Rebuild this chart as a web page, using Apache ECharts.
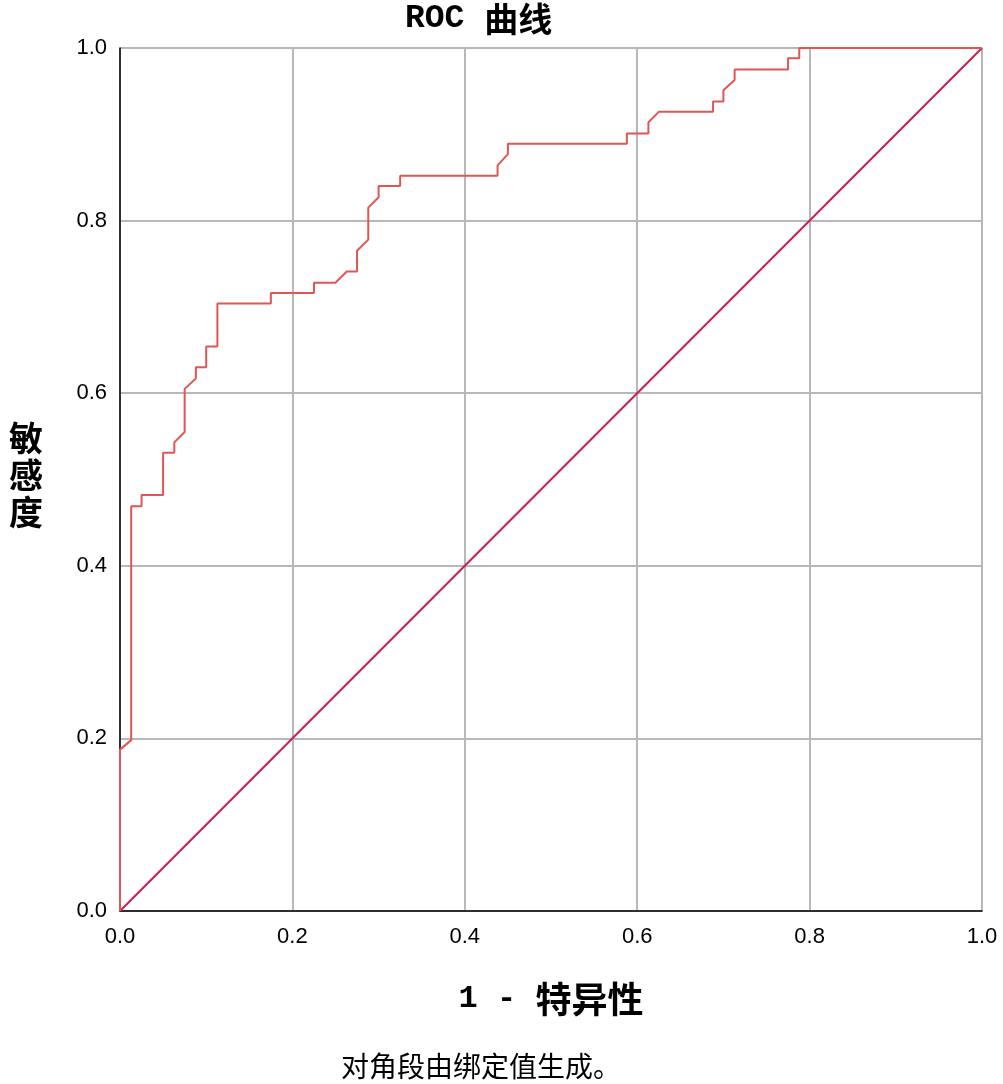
<!DOCTYPE html>
<html>
<head>
<meta charset="utf-8">
<script src="https://cdn.jsdelivr.net/npm/echarts@6/dist/echarts.min.js"></script>
<style>
html,body{margin:0;padding:0;background:#fff;}
#chart{width:1003px;height:1084px;}
</style>
</head>
<body>
<div id="chart"></div>
<script>
// ROC curve points (1 - specificity, sensitivity)
const fpr = [0, 0, 0.013, 0.013, 0.025, 0.025, 0.050, 0.050, 0.063, 0.063, 0.075, 0.075, 0.088, 0.088, 0.100, 0.100, 0.113, 0.113, 0.175, 0.175, 0.225, 0.225, 0.250, 0.263, 0.275, 0.275, 0.288, 0.288, 0.300, 0.300, 0.325, 0.325, 0.438, 0.438, 0.450, 0.450, 0.588, 0.588, 0.613, 0.613, 0.625, 0.688, 0.688, 0.700, 0.700, 0.713, 0.713, 0.775, 0.775, 0.788, 0.788, 1.0];
const tpr = [0, 0.187, 0.198, 0.469, 0.469, 0.482, 0.482, 0.531, 0.531, 0.543, 0.555, 0.605, 0.617, 0.630, 0.630, 0.654, 0.654, 0.704, 0.704, 0.716, 0.716, 0.728, 0.728, 0.741, 0.741, 0.765, 0.778, 0.815, 0.827, 0.840, 0.840, 0.852, 0.852, 0.864, 0.877, 0.889, 0.889, 0.901, 0.901, 0.914, 0.926, 0.926, 0.938, 0.938, 0.951, 0.963, 0.975, 0.975, 0.988, 0.988, 1.0, 1.0];
const diagX = [0, 1];
const diagY = [0, 1];

const curve = fpr.map((x, i) => [x, tpr[i]]);
const diag = diagX.map((x, i) => [x, diagY[i]]);

const chart = echarts.init(document.getElementById('chart'), null, {renderer: 'canvas'});
const labelFont = {fontFamily: 'Liberation Sans, Arial, sans-serif', fontSize: 22, color: '#000'};
chart.setOption({
  animation: false,
  backgroundColor: '#fff',
  title: {
    text: '{a|ROC }{b|曲线}',
    left: 405,
    top: 2,
    padding: 0,
    textStyle: {
      rich: {
        a: {fontFamily: 'Liberation Mono', fontWeight: 'bold', fontSize: 33, color: '#000'},
        b: {fontFamily: 'Noto Sans CJK SC', fontWeight: 'bold', fontSize: 34, color: '#000'}
      }
    }
  },
  grid: {left: 120, right: 21, top: 48, bottom: 173, containLabel: false},
  xAxis: {
    type: 'value', min: 0, max: 1, interval: 0.2,
    name: '{a|1 - }{b|特异性}', nameLocation: 'middle', nameGap: 70,
    nameTextStyle: {
      rich: {
        a: {fontFamily: 'Liberation Mono', fontWeight: 'bold', fontSize: 32, color: '#000'},
        b: {fontFamily: 'Noto Sans CJK SC', fontWeight: 'bold', fontSize: 36, color: '#000'}
      }
    },
    axisLine: {show: true, lineStyle: {color: '#000', width: 1.5}},
    axisTick: {show: false},
    axisLabel: Object.assign({margin: 15, formatter: v => v.toFixed(1)}, labelFont),
    splitLine: {show: true, lineStyle: {color: '#b8b8b8', width: 2}}
  },
  yAxis: {
    type: 'value', min: 0, max: 1, interval: 0.2,
    axisLine: {show: true, lineStyle: {color: '#000', width: 1.5}},
    axisTick: {show: false},
    axisLabel: Object.assign({margin: 13, formatter: v => v.toFixed(1)}, labelFont),
    splitLine: {show: true, lineStyle: {color: '#b8b8b8', width: 2}}
  },
  graphic: [
    {
      type: 'text', left: 9, top: 420,
      style: {text: '敏\n感\n度', font: 'bold 34px "Noto Sans CJK SC"', lineHeight: 37, fill: '#000'}
    },
    {
      type: 'text', left: 341, top: 1052,
      style: {text: '对角段由绑定值生成。', font: '28px "Noto Sans CJK SC"', fill: '#000'}
    }
  ],
  series: [
    {
      type: 'line', data: diag, symbol: 'none', silent: true,
      lineStyle: {color: '#cc1f4e', width: 2}
    },
    {
      type: 'line', data: curve, symbol: 'none', silent: true,
      lineStyle: {color: '#e15555', width: 2}
    }
  ]
});
</script>
</body>
</html>
